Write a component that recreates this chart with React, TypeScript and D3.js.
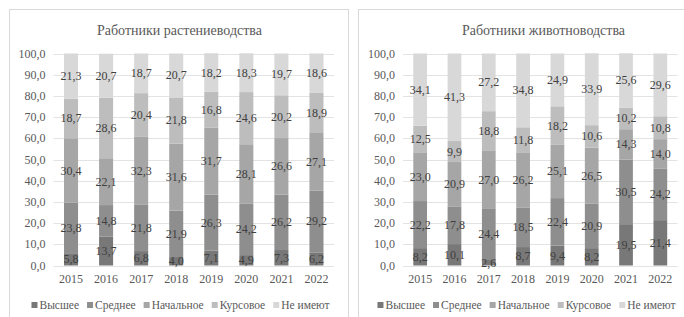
import { useEffect, useRef } from 'react';
import * as d3 from 'd3';

const years = ['2015', '2016', '2017', '2018', '2019', '2020', '2021', '2022'];
const levels = ['Высшее', 'Среднее', 'Начальное', 'Курсовое', 'Не имеют'];
const yTicks = [0, 10, 20, 30, 40, 50, 60, 70, 80, 90, 100];

// Работники растениеводства
const cropHigher = [5.8, 13.7, 6.8, 4.0, 7.1, 4.9, 7.3, 6.2];
const cropSecondary = [23.8, 14.8, 21.8, 21.9, 26.3, 24.2, 26.2, 29.2];
const cropPrimary = [30.4, 22.1, 32.3, 31.6, 31.7, 28.1, 26.6, 27.1];
const cropCourses = [18.7, 28.6, 20.4, 21.8, 16.8, 24.6, 20.2, 18.9];
const cropNone = [21.3, 20.7, 18.7, 20.7, 18.2, 18.3, 19.7, 18.6];

// Работники животноводства
const liveHigher = [8.2, 10.1, 2.6, 8.7, 9.4, 8.2, 19.5, 21.4];
const liveSecondary = [22.2, 17.8, 24.4, 18.5, 22.4, 20.9, 30.5, 24.2];
const livePrimary = [23.0, 20.9, 27.0, 26.2, 25.1, 26.5, 14.3, 14.0];
const liveCourses = [12.5, 9.9, 18.8, 11.8, 18.2, 10.6, 10.2, 10.8];
const liveNone = [34.1, 41.3, 27.2, 34.8, 24.9, 33.9, 25.6, 29.6];

const COLORS = ['#787878', '#8e8e8e', '#a6a6a6', '#bdbdbd', '#d8d8d8'];
const FONT = "'Liberation Serif', 'DejaVu Serif', serif";

const toRows = (series) =>
  years.map((year, i) => {
    const row = { year };
    levels.forEach((lvl, j) => { row[lvl] = series[j][i]; });
    return row;
  });

const fmt = (v) => d3.format('.1f')(v).replace('.', ',');

const drawPanel = (root, cfg) => {
  const g = root.append('g').style('font-family', FONT);

  // frame
  g.append('rect')
    .attr('x', cfg.box[0] + 0.5)
    .attr('y', cfg.box[1] + 0.5)
    .attr('width', cfg.box[2])
    .attr('height', cfg.box[3])
    .attr('fill', '#fff')
    .attr('stroke', '#d9d9d9');

  g.append('text')
    .attr('x', cfg.titleX)
    .attr('y', 35)
    .attr('text-anchor', 'middle')
    .style('font-size', '14px')
    .attr('fill', '#595959')
    .text(cfg.title);

  const x = d3.scaleBand().domain(years).range(cfg.xRange).paddingInner(0.6).paddingOuter(0.3);
  const y = d3.scaleLinear().domain([0, 100]).range([265.5, 53.5]);

  // grid
  g.append('g')
    .selectAll('line')
    .data(yTicks)
    .enter()
    .append('line')
    .attr('x1', cfg.xRange[0])
    .attr('x2', cfg.xRange[1])
    .attr('y1', d => Math.round(y(d)) + 0.5)
    .attr('y2', d => Math.round(y(d)) + 0.5)
    .attr('stroke', '#e3e3e3');

  g.append('g')
    .selectAll('text')
    .data(yTicks)
    .enter()
    .append('text')
    .attr('x', cfg.xRange[0] - 8)
    .attr('y', d => y(d) + 4)
    .attr('text-anchor', 'end')
    .style('font-size', '12px')
    .attr('fill', '#595959')
    .text(d => fmt(d));

  const rows = toRows(cfg.series);
  const stacked = d3.stack().keys(levels)(rows);

  stacked.forEach((layer, j) => {
    g.append('g')
      .selectAll('rect')
      .data(layer)
      .enter()
      .append('rect')
      .attr('x', d => x(d.data.year))
      .attr('y', d => y(d[1]))
      .attr('width', x.bandwidth())
      .attr('height', d => y(d[0]) - y(d[1]))
      .attr('fill', COLORS[j]);
  });

  stacked.forEach((layer) => {
    g.append('g')
      .selectAll('text')
      .data(layer)
      .enter()
      .append('text')
      .attr('x', d => x(d.data.year) + x.bandwidth() / 2)
      .attr('y', d => y((d[0] + d[1]) / 2) + 4)
      .attr('text-anchor', 'middle')
      .style('font-size', '12px')
      .attr('fill', '#404040')
      .text(d => fmt(d[1] - d[0]));
  });

  g.append('g')
    .selectAll('text')
    .data(years)
    .enter()
    .append('text')
    .attr('x', d => x(d) + x.bandwidth() / 2)
    .attr('y', 283)
    .attr('text-anchor', 'middle')
    .style('font-size', '12px')
    .attr('fill', '#595959')
    .text(d => d);

  // legend, centred on legendX
  const legend = g.append('g');
  let offset = 0;
  levels.forEach((lvl, j) => {
    const item = legend.append('g').attr('transform', `translate(${offset},0)`);
    item.append('rect')
      .attr('x', 0)
      .attr('y', 302)
      .attr('width', 6)
      .attr('height', 6)
      .attr('fill', COLORS[j]);
    const t = item.append('text')
      .attr('x', 8)
      .attr('y', 309)
      .style('font-size', '11.5px')
      .attr('fill', '#595959')
      .text(lvl);
    offset += 8 + t.node().getComputedTextLength() + 8;
  });
  const total = offset - 8;
  legend.attr('transform', `translate(${cfg.legendX - total / 2},0)`);
};

const App = () => {
  const svgRef = useRef(null);

  useEffect(() => {
    const svg = d3.select(svgRef.current);
    svg.selectAll('*').remove();

    drawPanel(svg, {
      title: 'Работники растениеводства',
      box: [9, 9, 339, 320],
      titleX: 179.5,
      xRange: [53.5, 334],
      legendX: 180.5,
      series: [cropHigher, cropSecondary, cropPrimary, cropCourses, cropNone],
    });

    drawPanel(svg, {
      title: 'Работники животноводства',
      box: [358, 9, 360, 320],
      titleX: 543.5,
      xRange: [403, 677.5],
      legendX: 526.5,
      series: [liveHigher, liveSecondary, livePrimary, liveCourses, liveNone],
    });
  }, []);

  return (
    <div style={{ position: 'fixed', left: 0, top: 0, background: '#fff' }}>
      <svg ref={svgRef} width={684} height={317} style={{ display: 'block' }} />
    </div>
  );
};

export default App;
